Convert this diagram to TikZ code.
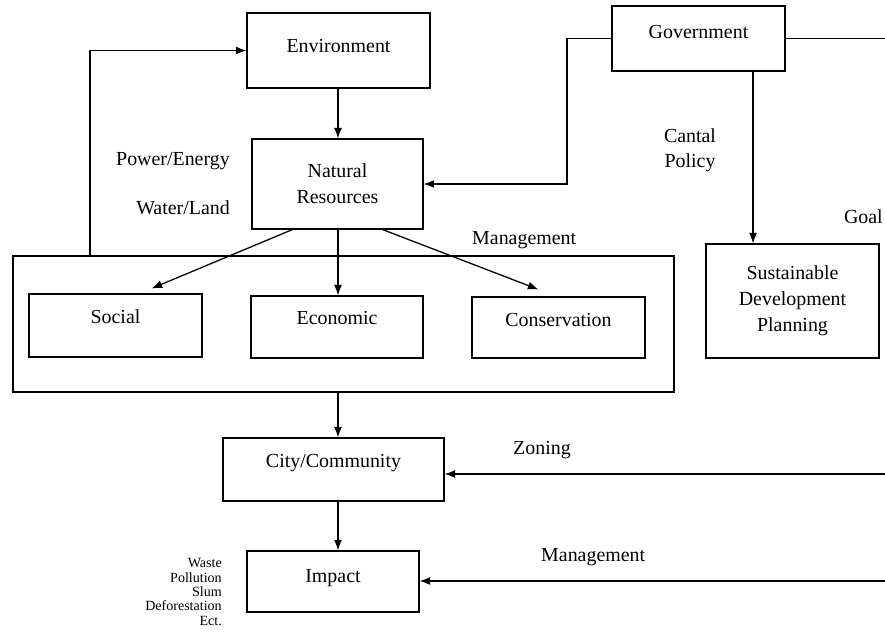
\documentclass[tikz,border=0pt]{standalone}
\usepackage{fontspec}
\setmainfont{Liberation Serif}
\usetikzlibrary{arrows.meta, calc}

\begin{document}
\begin{tikzpicture}[
    x=0.03cm, y=-0.03cm,
    box/.style={
        draw,
        line width=0.9pt,
        align=center,
        inner sep=0pt,
        font=\fontsize{17}{22}\selectfont
    },
    lbl/.style={inner sep=0pt, font=\fontsize{17}{21}\selectfont},
    arrow/.style={-{Latex[length=3.2mm,width=2.4mm]}, line width=1.1pt},
    link/.style={line width=0.9pt}
]
\useasboundingbox (0,0) rectangle (885,632);
\clip (0,0) rectangle (885,632);

% --- Top row ---
\node[box, minimum width=5.49cm, text height=1.17cm, text depth=1.08cm] (env) at (338.5,50.5) {Environment};
\node[box, minimum width=5.19cm, text height=0.96cm, text depth=0.99cm] (gov) at (698.5,38.5) {Government};
\node[box, minimum width=5.13cm, minimum height=2.7cm] (nat) at (337.5,184) {Natural\\Resources};

% --- Right side ---
\node[box, minimum width=5.19cm, minimum height=3.42cm] (sdp) at (792.5,301) {Sustainable\\Development\\Planning};

% --- Management group ---
\node[box, minimum width=19.83cm, minimum height=4.08cm] (group) at (343.5,324) {};
\node[box, minimum width=5.19cm, text height=0.87cm, text depth=1.02cm] (social) at (115.5,325.5) {Social};
\node[box, minimum width=5.16cm, text height=0.84cm, text depth=1.02cm] (econ) at (337,327) {Economic};
\node[box, minimum width=5.19cm, text height=0.87cm, text depth=0.96cm] (cons) at (558.5,327.5) {Conservation};

% --- Bottom ---
\node[box, minimum width=6.63cm, text height=0.87cm, text depth=1.02cm] (city) at (333.5,469.5) {City/Community};
\node[box, minimum width=5.16cm, text height=0.93cm, text depth=0.90cm] (impact) at (333,581.5) {Impact};

% --- Labels ---
\node[lbl, anchor=east] (power) at (230,161) {Power/Energy};
\node[lbl, anchor=east] (water) at (230,208) {Water/Land};
\node[lbl, anchor=west] (mgmttop) at (472,240) {Management};
\node[lbl, align=center] (policy) at (690,150) {Cantal\\Policy};
\node[lbl, anchor=east] (goal) at (883,217) {Goal};
\node[lbl, anchor=west] (zoning) at (513,450) {Zoning};
\node[lbl, anchor=west] (mgmtlow) at (541,557) {Management};
\node[lbl, align=right, anchor=east, font=\fontsize{12}{12.2}\selectfont] (effects) at (222,592) {Waste\\Pollution\\Slum\\Deforestation\\Ect.};

% --- Helper points ---
\coordinate (midx) at (338,0);
\coordinate (loopx) at (90,0);
\coordinate (polx) at (753,0);
\coordinate (bend) at (567,184);
\coordinate (goalend) at (885,38.5);
\coordinate (zoneend) at (885,474);
\coordinate (mgmtend) at (885,581);

% --- Arrows ---
\draw[arrow] (env.south -| midx) -- (nat.north -| midx);
\draw[arrow] (gov.west) -| (bend) -- (nat.east);
\draw[link] (gov.east) -- (goalend);
\draw[arrow] (gov.south -| polx) -- (sdp.north -| polx);
\draw[arrow] (group.north -| loopx) |- (env.west);
\draw[arrow] ($(nat.south)+(-45,0)$) -- ($(social.north)+(36,-5)$);
\draw[arrow] (nat.south -| midx) -- (econ.north -| midx);
\draw[arrow] ($(nat.south)+(45,0)$) -- ($(cons.north)+(-20,-7)$);
\draw[arrow] (group.south -| midx) -- (city.north -| midx);
\draw[arrow] (city.south -| midx) -- (impact.north -| midx);
\draw[arrow] (zoneend) -- (city.east |- zoneend);
\draw[arrow] (mgmtend) -- (impact.east |- mgmtend);

\end{tikzpicture}
\end{document}
